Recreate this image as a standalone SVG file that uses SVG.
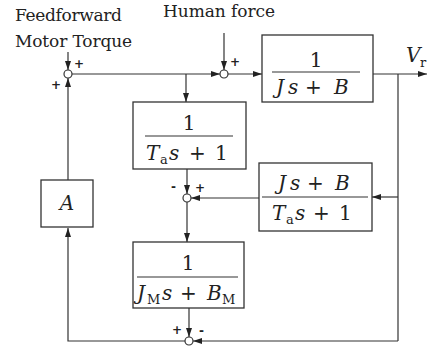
<svg xmlns="http://www.w3.org/2000/svg" width="437" height="352" viewBox="0 0 437 352">
<defs>
<marker id="ah" markerWidth="9" markerHeight="6" refX="9" refY="3" orient="auto" markerUnits="userSpaceOnUse">
<path d="M0,0 L9,3 L0,6 Z" fill="#222"/>
</marker>
<style>
.ln{stroke:#333;stroke-width:1.2;fill:none}
.ar{stroke:#333;stroke-width:1.2;fill:none;marker-end:url(#ah)}
.box{fill:#fff;stroke:#333;stroke-width:1.3}
.bar{stroke:#333;stroke-width:1.1}
.sj{fill:#fff;stroke:#333;stroke-width:1.2}
.lbl{font-family:'DejaVu Serif',serif;font-size:17px;fill:#222}
.m{font-family:'DejaVu Serif',serif;font-size:20px;fill:#222}
.i{font-style:italic}
.sub{font-size:13px;font-style:normal}
.sg{font-family:'DejaVu Sans',sans-serif;font-weight:bold;font-size:12px;fill:#222}
</style>
</defs>
<rect width="437" height="352" fill="#fff"/>
<g id="labels">
<text class="lbl" x="15" y="21" textLength="107">Feedforward</text>
<text class="lbl" x="15" y="47" textLength="117">Motor Torque</text>
<text class="lbl" x="163" y="17" textLength="112">Human force</text>
<text class="m" x="406" y="62"><tspan class="i">V</tspan><tspan class="sub" x="420" y="67">r</tspan></text>
</g>
<g id="connectors">
<line class="ar" x1="68" y1="52" x2="68" y2="70"/>
<line class="ar" x1="72" y1="74" x2="220" y2="74"/>
<line class="ar" x1="186" y1="74" x2="186" y2="102"/>
<line class="ar" x1="224" y1="33" x2="224" y2="70"/>
<line class="ar" x1="228" y1="74" x2="262" y2="74"/>
<line class="ar" x1="373" y1="74" x2="427" y2="74"/>
<line class="ln" x1="398" y1="74" x2="398" y2="341"/>
<line class="ar" x1="398" y1="197" x2="372" y2="197"/>
<line class="ar" x1="259" y1="198" x2="191" y2="198"/>
<line class="ar" x1="187" y1="169" x2="187" y2="194"/>
<line class="ar" x1="187" y1="202" x2="187" y2="242"/>
<line class="ar" x1="189" y1="308" x2="189" y2="337"/>
<line class="ar" x1="398" y1="341" x2="193" y2="341"/>
<polyline class="ar" points="185,341 68,341 68,228"/>
<line class="ar" x1="68" y1="180" x2="68" y2="78"/>
</g>
<g id="sum1"><circle class="sj" cx="68" cy="74" r="4"/><text class="sg" x="74" y="68">+</text><text class="sg" x="51" y="89">+</text></g>
<g id="sum2"><circle class="sj" cx="224" cy="74" r="4"/><text class="sg" x="230" y="66">+</text></g>
<g id="sum3"><circle class="sj" cx="187" cy="198" r="4"/><text class="sg" x="171" y="191">-</text><text class="sg" x="195" y="192">+</text></g>
<g id="sum4"><circle class="sj" cx="189" cy="341" r="4"/><text class="sg" x="172" y="334">+</text><text class="sg" x="199" y="335">-</text></g>
<g id="plant">
<rect class="box" x="262" y="35" width="111" height="67"/>
<line class="bar" x1="272" y1="72" x2="360" y2="72"/>
<text class="m" x="316" y="67" text-anchor="middle">1</text>
<text class="m"><tspan class="i" x="276" y="94">J</tspan><tspan class="i" x="288">s</tspan><tspan x="305">+</tspan><tspan class="i" x="334">B</tspan></text>
</g>
<g id="filter">
<rect class="box" x="133" y="102" width="113" height="67"/>
<line class="bar" x1="145" y1="136" x2="233" y2="136"/>
<text class="m" x="189" y="130" text-anchor="middle">1</text>
<text class="m"><tspan class="i" x="146" y="160">T</tspan><tspan class="sub" x="160" y="164">a</tspan><tspan class="i" x="169" y="160">s</tspan><tspan x="189">+</tspan><tspan x="215">1</tspan></text>
</g>
<g id="observer">
<rect class="box" x="259" y="163" width="113" height="68"/>
<line class="bar" x1="262" y1="197" x2="368" y2="197"/>
<text class="m"><tspan class="i" x="278" y="190">J</tspan><tspan class="i" x="290">s</tspan><tspan x="307">+</tspan><tspan class="i" x="335">B</tspan></text>
<text class="m"><tspan class="i" x="272" y="220">T</tspan><tspan class="sub" x="286" y="224">a</tspan><tspan class="i" x="295" y="220">s</tspan><tspan x="313">+</tspan><tspan x="339">1</tspan></text>
</g>
<g id="motor">
<rect class="box" x="133" y="242" width="111" height="66"/>
<line class="bar" x1="137" y1="277" x2="238" y2="277"/>
<text class="m" x="188" y="270" text-anchor="middle">1</text>
<text class="m"><tspan class="i" x="137" y="300">J</tspan><tspan class="sub" x="147" y="304">M</tspan><tspan class="i" x="162" y="300">s</tspan><tspan x="180">+</tspan><tspan class="i" x="207">B</tspan><tspan class="sub" x="222" y="304">M</tspan></text>
</g>
<g id="gainA">
<rect class="box" x="41" y="180" width="52" height="47"/>
<text class="m i" x="67" y="210" text-anchor="middle">A</text>
</g>
</svg>
